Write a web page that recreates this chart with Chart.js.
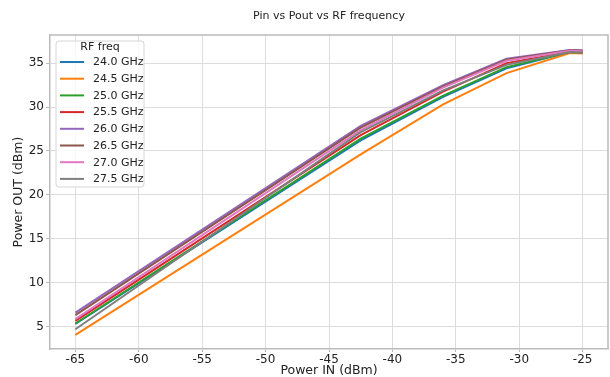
<!DOCTYPE html>
<html>
<head>
<meta charset="utf-8">
<script src="https://cdn.jsdelivr.net/npm/chart.js@4/dist/chart.umd.min.js"></script>
<style>
  html, body { margin: 0; padding: 0; background: #fff; }
  #wrap { width: 610px; height: 377px; }
</style>
</head>
<body>
<div id="wrap"><canvas id="myChart" width="610" height="377"></canvas></div>
<script>
const chartTitle = 'Pin vs Pout vs RF frequency';
const legendTitle = 'RF freq';
const freqLabels = ['24.0 GHz', '24.5 GHz', '25.0 GHz', '25.5 GHz', '26.0 GHz', '26.5 GHz', '27.0 GHz', '27.5 GHz'];
const lineColors = ['#1f77b4', '#ff7f0e', '#2ca02c', '#d62728', '#9467bd', '#8c564b', '#e377c2', '#7f7f7f'];

// input power (dBm)
const pin = [-65, -42.5, -36, -31, -26, -25];

// output power (dBm), one array per frequency
const pout24_0 = [5.3, 26.2, 31.15, 34.4, 36.25, 36.2];
const pout24_5 = [4.05, 24.6, 30.3, 33.86, 36.14, 36.1];
const pout25_0 = [5.35, 26.4, 31.3, 34.54, 36.25, 36.2];
const pout25_5 = [5.65, 26.8, 31.75, 35.0, 36.3, 36.25];
const pout26_0 = [6.6, 27.85, 32.5, 35.49, 36.5, 36.45];
const pout26_5 = [6.3, 27.65, 32.35, 35.38, 36.45, 36.4];
const pout27_0 = [5.85, 27.36, 32.2, 35.26, 36.4, 36.35];
const pout27_5 = [4.7, 27.13, 31.9, 34.8, 36.25, 36.2];

const xTicks = [-65, -60, -55, -50, -45, -40, -35, -30, -25];
const yTicks = [5, 10, 15, 20, 25, 30, 35];

const allPout = [pout24_0, pout24_5, pout25_0, pout25_5, pout26_0, pout26_5, pout27_0, pout27_5];
const FONT = 'DejaVu Sans';

const datasets = allPout.map((ys, i) => ({
    label: freqLabels[i],
    data: pin.map((x, j) => ({ x: x, y: ys[j] })),
    borderColor: lineColors[i],
    backgroundColor: lineColors[i],
    borderWidth: 2,
    pointRadius: 0,
    tension: 0,
    fill: false,
    order: allPout.length - i   // later series drawn on top, like matplotlib
}));

// title + boxed legend inside the plot, plus top/right frame
const extras = {
    id: 'extras',
    afterDraw(chart) {
        const ctx = chart.ctx;
        const a = chart.chartArea;
        ctx.save();

        ctx.strokeStyle = '#bbbbbb';
        ctx.lineWidth = 1.5;
        ctx.beginPath();
        ctx.moveTo(a.left, a.top);
        ctx.lineTo(a.right, a.top);
        ctx.lineTo(a.right, a.bottom);
        ctx.stroke();

        ctx.fillStyle = '#222';
        ctx.font = '11px "' + FONT + '"';
        ctx.textAlign = 'center';
        ctx.textBaseline = 'middle';
        ctx.fillText(chartTitle, (a.left + a.right) / 2, 16);

        const bx = a.left + 6, by = a.top + 6, bw = 88, bh = 146;
        ctx.fillStyle = 'rgba(255,255,255,0.8)';
        ctx.strokeStyle = '#d6d6d6';
        ctx.lineWidth = 1;
        ctx.beginPath();
        ctx.roundRect(bx, by, bw, bh, 3);
        ctx.fill();
        ctx.stroke();

        ctx.fillStyle = '#222';
        ctx.fillText(legendTitle, bx + bw / 2, by + 6.5);

        ctx.textAlign = 'left';
        freqLabels.forEach((lab, i) => {
            const y = by + 21 + i * 16.7;
            ctx.strokeStyle = lineColors[i];
            ctx.lineWidth = 2;
            ctx.beginPath();
            ctx.moveTo(bx + 4, y);
            ctx.lineTo(bx + 28, y);
            ctx.stroke();
            ctx.fillStyle = '#222';
            ctx.fillText(lab, bx + 37, y + 0.5);
        });
        ctx.restore();
    }
};

const config = {
    type: 'line',
    data: { datasets },
    options: {
        responsive: false,
        animation: false,
        layout: { padding: { top: 35, right: 2, left: 0, bottom: 0 } },
        scales: {
            x: {
                type: 'linear',
                min: -67,
                max: -23,
                afterBuildTicks: s => { s.ticks = xTicks.map(v => ({ value: v })); },
                afterFit: s => { s.height = 28; },
                ticks: {
                    color: '#222',
                    padding: 1,
                    font: { family: FONT, size: 12 }
                },
                grid: { color: '#dddddd', tickLength: 3, tickColor: '#bbbbbb' },
                border: { color: '#bbbbbb', width: 1.5 },
                title: {
                    display: true,
                    text: 'Power IN (dBm)',
                    color: '#222',
                    padding: { top: 0, bottom: -1 },
                    font: { family: FONT, size: 12.5 }
                }
            },
            y: {
                type: 'linear',
                min: 2.45,
                max: 38.2,
                afterBuildTicks: s => { s.ticks = yTicks.map(v => ({ value: v })); },
                afterFit: s => { s.width = 50; },
                ticks: {
                    color: '#222',
                    padding: 2,
                    font: { family: FONT, size: 12 }
                },
                grid: { color: '#dddddd', tickLength: 4, tickColor: '#bbbbbb' },
                border: { color: '#bbbbbb', width: 1.5 },
                title: {
                    display: true,
                    text: 'Power OUT (dBm)',
                    color: '#222',
                    padding: { top: 11.5, bottom: 0 },
                    font: { family: FONT, size: 12.5 }
                }
            }
        },
        plugins: {
            legend: { display: false },
            title: { display: false },
            tooltip: { enabled: false }
        }
    },
    plugins: [extras]
};

const myChart = new Chart(document.getElementById('myChart').getContext('2d'), config);
</script>
</body>
</html>
